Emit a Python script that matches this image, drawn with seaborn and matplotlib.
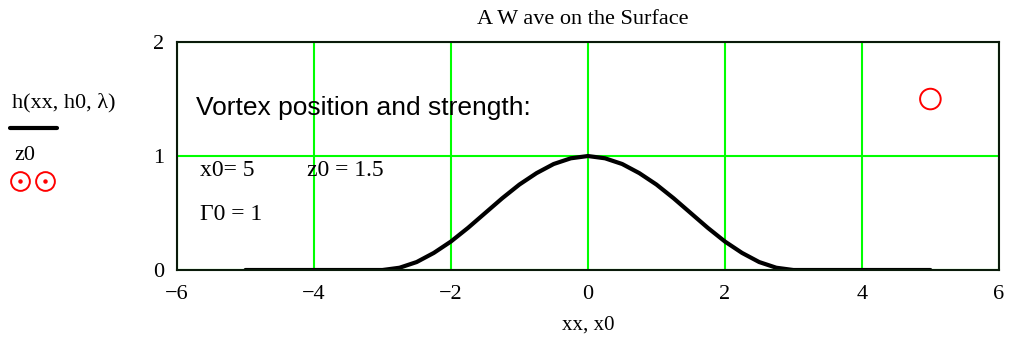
import matplotlib
matplotlib.use("Agg")
import matplotlib.pyplot as plt
from matplotlib.lines import Line2D
import seaborn as sns
import pandas as pd

# Wave height h(xx, h0, lambda) sampled along the surface
xx = [-5.0, -4.5, -4.0, -3.5, -3.0, -2.75, -2.5, -2.25, -2.0, -1.75, -1.5, -1.25,
      -1.0, -0.75, -0.5, -0.25, 0.0, 0.25, 0.5, 0.75, 1.0, 1.25, 1.5, 1.75,
      2.0, 2.25, 2.5, 2.75, 3.0, 3.5, 4.0, 4.5, 5.0]
h = [0.0, 0.0, 0.0, 0.0, 0.0, 0.02, 0.07, 0.15, 0.25, 0.37, 0.5, 0.63,
     0.75, 0.85, 0.93, 0.98, 1.0, 0.98, 0.93, 0.85, 0.75, 0.63, 0.5, 0.37,
     0.25, 0.15, 0.07, 0.02, 0.0, 0.0, 0.0, 0.0, 0.0]

# Vortex position and strength
x0 = [5]
z0 = [1.5]
gamma0 = 1

xticks = [-6, -4, -2, 0, 2, 4, 6]
yticks = [0, 1, 2]

sns.set_theme(style="white")
plt.rcParams["font.family"] = ["Liberation Serif", "DejaVu Serif"]
plt.rcParams["axes.unicode_minus"] = True
plt.rcParams["text.color"] = "black"

fig = plt.figure(figsize=(10.1, 3.39), dpi=100)
ax = fig.add_axes([0.1752, 0.2035, 0.8138, 0.6725])

ax.set_xlim(-6, 6)
ax.set_ylim(0, 2)
ax.set_xticks(xticks)
ax.set_yticks(yticks)
ax.set_xticklabels([("\u2212" + str(-t)) if t < 0 else str(t) for t in xticks])
ax.grid(True, color="#00ff00", linewidth=1.5)
ax.set_axisbelow(True)
for s in ax.spines.values():
    s.set_color("#0a1a0a")
    s.set_linewidth(1.5)
ax.tick_params(axis="x", labelsize=16, length=0, pad=11, colors="black")
ax.tick_params(axis="y", labelsize=16, length=0, pad=9, colors="black")

wave = pd.DataFrame({"xx": xx, "h": h})
sns.lineplot(data=wave, x="xx", y="h", color="black", linewidth=3, ax=ax)
vortex = pd.DataFrame({"x0": x0, "z0": z0})
sns.scatterplot(data=vortex, x="x0", y="z0", marker="o", s=220, facecolor="none",
                edgecolor="red", linewidth=1.4, ax=ax)

ax.set_xlabel("")
ax.set_ylabel("")
fig.text(583 / 1010, 1 - 19 / 339, "A W ave on the Surface", ha="center", va="center",
         fontsize=16)
fig.text(588 / 1010, 1 - 325 / 339, "xx, x0", ha="center", va="center", fontsize=15)

ax.text(-5.72, 1.42, "Vortex position and strength:", family=["Liberation Sans", "DejaVu Sans"],
        fontsize=19, va="center", ha="left")
ax.text(-5.66, 0.87, "x0= 5", fontsize=17, va="center", ha="left")
ax.text(-4.1, 0.87, "z0 = 1.5", fontsize=17, va="center", ha="left")
ax.text(-5.66, 0.49, "\u03930 = 1", fontsize=17, va="center", ha="left")

# Left-hand legend stack
fig.text(12 / 1010, 1 - 103 / 339, "h(xx, h0, \u03bb)", fontsize=16, va="center", ha="left")
fig.add_artist(Line2D([10 / 1010, 57 / 1010], [1 - 128 / 339, 1 - 128 / 339],
                      transform=fig.transFigure, color="black", linewidth=3))
fig.text(14 / 1010, 1 - 155 / 339, "z0", fontsize=16, va="center", ha="left")
for cx in (20, 45):
    fig.add_artist(Line2D([cx / 1010], [1 - 181 / 339], transform=fig.transFigure,
                          marker="o", markersize=13.5, markerfacecolor="none",
                          markeredgecolor="red", markeredgewidth=1.4, linestyle="none"))
    fig.add_artist(Line2D([cx / 1010], [1 - 181 / 339], transform=fig.transFigure,
                          marker="o", markersize=2.2, color="red", linestyle="none"))

fig.savefig("out.png", dpi=100)
